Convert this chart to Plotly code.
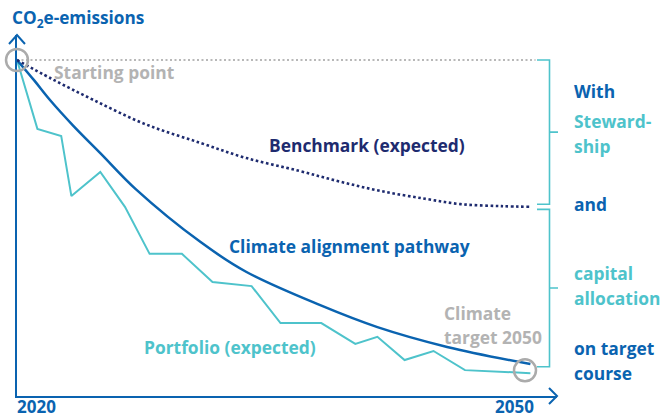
import plotly.graph_objects as go

# ---- data (index, start = 100) ----
portfolio_years = [2020.0, 2021.2, 2022.6, 2023.2, 2024.9, 2026.35, 2027.8, 2029.7, 2031.5,
                   2033.8, 2035.5, 2037.9, 2039.9, 2041.2, 2042.8, 2044.5, 2046.35, 2050.2]
portfolio_vals = [100, 79.5, 77.4, 59.5, 66.7, 56.3, 42.3, 42.3, 33.9,
                  32.7, 21.7, 21.7, 15.5, 17.6, 10.7, 13.4, 7.7, 6.8]

climate_years = [2020.0, 2021.0, 2021.94, 2023.3, 2024.9, 2027.0, 2030.8, 2033.5, 2037.8, 2041.2, 2045.3, 2050.2]
climate_vals = [100, 94.0, 88.1, 80.5, 72.3, 61.5, 45.8, 36.9, 27.1, 20.5, 14.6, 9.5]

bench_years = [2020.0, 2022.0, 2024.5, 2027.5, 2030.8, 2033.5, 2036.6, 2039.0, 2041.4, 2044.0, 2046.1, 2048.5, 2050.2]
bench_vals = [100, 94.5, 88.1, 81.0, 75.3, 70.8, 67.0, 63.8, 61.0, 58.7, 57.1, 56.5, 56.3]

start_years = [2020.0, 2050.5]
start_vals = [100, 100]

x_ticks = [2020, 2050]
x_tick_labels = ["2020", "2050"]

# ---- styling ----
NAVY = "#1E2B6F"
BLUE = "#0A63B0"
TEAL = "#4EC3CB"
GREY = "#ABABAB"
LGREY = "#B3B3B3"
FONT = "Open Sans"
FS = 17.4

W, H = 662, 418
L, R, T, B = 17, 557, 35, 396
PX_PER_YEAR = 17.0
PX_PER_UNIT = 3.36
X0 = 2020
X1 = X0 + (R - L) / PX_PER_YEAR
Y1 = (B - T) / PX_PER_UNIT


def xp(px):  # pixel -> paper
    return (px - L) / (R - L)


def yp(py):
    return (B - py) / (B - T)


def xpd(year):  # data -> paper
    return (year - X0) / (X1 - X0)


def ypd(v):
    return v / Y1


fig = go.Figure()
fig.add_trace(go.Scatter(x=start_years, y=start_vals, mode="lines",
                         line=dict(color="#B8B8B8", width=2, dash="2px,2.5px"), hoverinfo="skip"))
fig.add_trace(go.Scatter(x=portfolio_years, y=portfolio_vals, mode="lines",
                         line=dict(color=TEAL, width=2), name="Portfolio (expected)"))
fig.add_trace(go.Scatter(x=climate_years, y=climate_vals, mode="lines", line_shape="spline",
                         line=dict(color=BLUE, width=2.5), name="Climate alignment pathway"))
fig.add_trace(go.Scatter(x=bench_years, y=bench_vals, mode="lines", line_shape="spline",
                         line=dict(color=NAVY, width=2.6, dash="2.6px,2.6px"), name="Benchmark (expected)"))

shapes = []
# axis arrows (pixel-sized chevrons anchored at axis ends)
shapes.append(dict(type="path", xref="paper", yref="paper", xsizemode="pixel", ysizemode="pixel",
                   xanchor=0, yanchor=1, path="M -8,-9 L 0,0 L 8,-9",
                   line=dict(color=BLUE, width=2)))
shapes.append(dict(type="path", xref="paper", yref="paper", xsizemode="pixel", ysizemode="pixel",
                   xanchor=1, yanchor=0, path="M -8,8 L 0,0 L -8,-8",
                   line=dict(color=BLUE, width=2)))
# circles at start and 2050 target
shapes.append(dict(type="circle", xref="paper", yref="paper", xsizemode="pixel", ysizemode="pixel",
                   xanchor=xpd(start_years[0]), yanchor=ypd(start_vals[0]), x0=-11, x1=11, y0=-11, y1=11,
                   line=dict(color=GREY, width=2.5)))
shapes.append(dict(type="circle", xref="paper", yref="paper", xsizemode="pixel", ysizemode="pixel",
                   xanchor=xp(525), yanchor=ypd((climate_vals[-1] + portfolio_vals[-1]) / 2 - 0.5),
                   x0=-11, x1=11, y0=-11, y1=11, line=dict(color=GREY, width=2.5)))
# brackets
bx0, bx1, bx2 = xp(537), xp(549.5), xp(558)
gap = 0.75
top_u, bot_u = start_vals[0], bench_vals[-1] + gap
top_l, bot_l = bench_vals[-1] - gap, climate_vals[-1] - 0.8
for t_, b_ in [(top_u, bot_u), (top_l, bot_l)]:
    t_, b_ = ypd(t_), ypd(b_)
    m_ = (t_ + b_) / 2
    shapes.append(dict(type="path", xref="paper", yref="paper",
                       path=f"M {bx0},{t_} L {bx1},{t_} L {bx1},{b_} L {bx0},{b_} M {bx1},{m_} L {bx2},{m_}",
                       line=dict(color=TEAL, width=1.6)))

ann = []


def text(s, px, py, color, size=FS, xanchor="left"):
    ann.append(dict(text=s, x=xp(px), y=yp(py), xref="paper", yref="paper", showarrow=False,
                    xanchor=xanchor, yanchor="middle", borderpad=0, borderwidth=0,
                    font=dict(family=FONT, size=size, color=color, weight="bold")))


text("CO<sub>2</sub>e-emissions", 12, 19, BLUE, 17.2)
text("Starting point", 54, 72, LGREY)
text("Benchmark (expected)", 269, 145, NAVY)
text("Climate alignment pathway", 229, 246, BLUE)
text("Portfolio (expected)", 144, 347, TEAL)
text("Climate", 444, 313, LGREY)
text("target 2050", 444, 337, LGREY)
text("With", 574, 91, BLUE)
text("Steward-", 574, 121, TEAL)
text("ship", 574, 146, TEAL)
text("and", 574, 204, BLUE)
text("capital", 574, 273, TEAL)
text("allocation", 574, 298, TEAL)
text("on target", 574, 348, BLUE)
text("course", 574, 373, BLUE)
# x tick labels
for tv, tl in zip(x_ticks, x_tick_labels):
    ann.append(dict(text=tl, x=xpd(tv) if tv == X0 else xp(534), y=yp(418), xref="paper", yref="paper",
                    showarrow=False, xanchor="left" if tv == X0 else "right", yanchor="bottom",
                    borderpad=0, borderwidth=0,
                    font=dict(family=FONT, size=17, color=BLUE, weight="bold")))

fig.update_layout(
    width=W, height=H,
    margin=dict(l=L, r=W - R, t=T, b=H - B, autoexpand=False),
    paper_bgcolor="white", plot_bgcolor="white",
    showlegend=False,
    shapes=shapes, annotations=ann,
    xaxis=dict(range=[X0, X1], showgrid=False, zeroline=False, showline=True, automargin=False,
               linecolor=BLUE, linewidth=2, showticklabels=False, ticks=""),
    yaxis=dict(range=[0, Y1], showgrid=False, zeroline=False, showline=True, automargin=False,
               linecolor=BLUE, linewidth=2, showticklabels=False, ticks=""),
)
fig.write_html("out.html", config={"displayModeBar": False},
               post_script="document.body.style.margin='0';")
